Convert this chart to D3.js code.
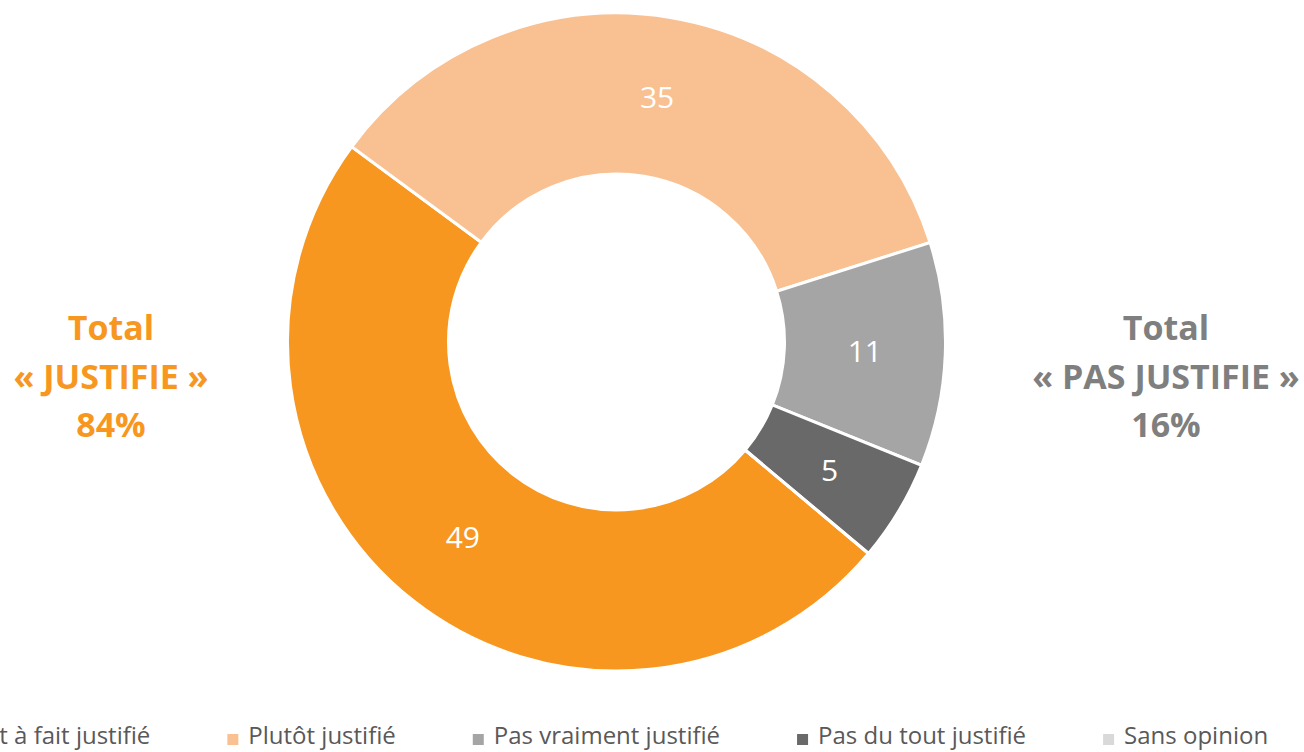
<!DOCTYPE html>
<html>
<head>
<meta charset="utf-8">
<script src="https://cdn.jsdelivr.net/npm/d3@7"></script>
<style>
	body { margin: 0; background: #fff; }
	svg { display: block; font-family: "Open Sans", sans-serif; }
</style>
</head>
<body>
<svg id="chart" width="1304" height="752"></svg>
<script>
// chart data
var categories = ["Tout à fait justifié", "Plutôt justifié", "Pas vraiment justifié", "Pas du tout justifié", "Sans opinion"];
var values = [49, 35, 11, 5, 0];
var colors = ["#F7971F", "#F9C192", "#A5A5A5", "#696969", "#D9D9D9"];

var totalLeft = ["Total", "« JUSTIFIE »", "84%"];
var totalRight = ["Total", "« PAS JUSTIFIE »", "16%"];

var width = 1304,
	height = 752;

var cx = 616.5,
	cy = 342,
	outerR = 329,
	innerR = 168;

// first slice angle (degrees, clockwise from top)
var startDeg = 130;

var svg = d3.select("#chart");

var pie = d3.pie()
	.sort(null)
	.value(function (d) { return d; })
	.startAngle(startDeg * Math.PI / 180)
	.endAngle((startDeg + 360) * Math.PI / 180);

var arc = d3.arc().innerRadius(innerR).outerRadius(outerR);
var labelArc = d3.arc().innerRadius((innerR + outerR) / 2).outerRadius((innerR + outerR) / 2);

var g = svg.append("g").attr("transform", "translate(" + cx + "," + cy + ")");

var slices = pie(values);

g.selectAll("path")
	.data(slices)
	.enter()
	.append("path")
	.attr("d", arc)
	.attr("fill", function (_d, i) { return colors[i]; })
	.attr("stroke", "#fff")
	.attr("stroke-width", 3);

g.selectAll("text.val")
	.data(slices.filter(function (d) { return d.data > 0; }))
	.enter()
	.append("text")
	.attr("class", "val")
	.attr("transform", function (d) { return "translate(" + labelArc.centroid(d) + ")"; })
	.attr("text-anchor", "middle")
	.attr("dy", "0.36em")
	.attr("fill", "#fff")
	.style("font-size", "30px")
	.text(function (d) { return d.data; });

// side totals
function drawTotal(lines, x, color) {
	var t = svg.append("text")
		.attr("x", x)
		.attr("y", 340)
		.attr("text-anchor", "middle")
		.attr("fill", color)
		.style("font-size", "34px")
		.style("font-weight", "bold");
	t.selectAll("tspan")
		.data(lines)
		.enter()
		.append("tspan")
		.attr("x", x)
		.attr("dy", function (_d, i) { return i == 0 ? 0 : 48.5; })
		.text(function (d) { return d; });
}
drawTotal(totalLeft, 111, "#F7971F");
drawTotal(totalRight, 1166, "#7F7F7F");

// legend (first item runs off the left edge, as in the original)
var legend = svg.append("g").attr("class", "legend");
var items = legend.selectAll("g")
	.data(categories)
	.enter()
	.append("g");

items.append("rect")
	.attr("width", 11)
	.attr("height", 11)
	.attr("y", -10)
	.attr("fill", function (_d, i) { return colors[i]; });

items.append("text")
	.attr("x", 21)
	.attr("fill", "#595959")
	.style("font-size", "24px")
	.text(function (d) { return d; });

var gap = 77;
var pos = [];
var xAcc = 0;
items.each(function () {
	var w = 21 + d3.select(this).select("text").node().getComputedTextLength();
	pos.push(xAcc);
	xAcc += w + gap;
});
var totalW = xAcc - gap;
var legendStart = 602 - totalW / 2;
items.attr("transform", function (_d, i) { return "translate(" + (legendStart + pos[i]) + ",744)"; });
</script>
</body>
</html>
